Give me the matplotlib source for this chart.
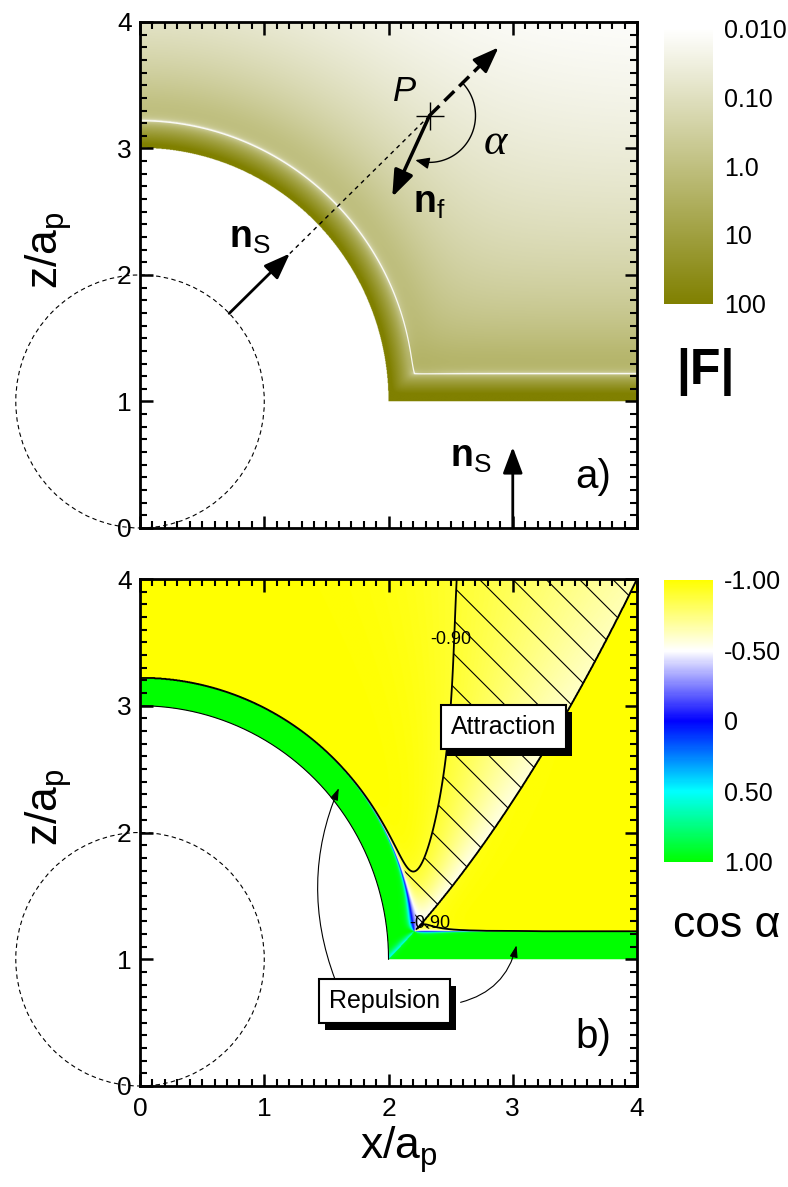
import numpy as np
import matplotlib
matplotlib.use("Agg")
import matplotlib.pyplot as plt
import matplotlib.transforms as mtransforms
from matplotlib.colors import LinearSegmentedColormap, LogNorm, Normalize
from matplotlib.ticker import MultipleLocator, NullLocator
from matplotlib.patches import Circle, Rectangle

plt.rcParams['font.family'] = ['Liberation Sans', 'DejaVu Sans']
plt.rcParams['mathtext.fontset'] = 'custom'
plt.rcParams['mathtext.rm'] = 'Liberation Sans'
plt.rcParams['mathtext.it'] = 'Liberation Sans:italic'
plt.rcParams['mathtext.bf'] = 'Liberation Sans:bold'
plt.rcParams['hatch.color'] = 'black'
plt.rcParams['hatch.linewidth'] = 0.8

# geometry, in units of a_p
a_p = 1.0
sphere_z = 1.0          # centre of the fixed particle
contact_sphere = 2.0    # centre-centre distance at contact
contact_plane = 1.0     # centre height at contact with the wall
h_zero = 0.22           # gap where the force changes sign

# force model parameters
hamaker = 6.0
soft = 0.1
lam_rep = 0.05
plane_factor = 0.7

# colour scales
F_ticks = [0.01, 0.1, 1, 10, 100]
F_labels = ['0.010', '0.10', '1.0', '10', '100']
F_colors = ['#ffffff', '#808000']
cos_ticks = [-1, -0.5, 0, 0.5, 1]
cos_labels = ['-1.00', '-0.50', '0', '0.50', '1.00']
cos_nodes = [-1.0, -0.5, 0.0, 0.5, 1.0]
cos_colors = ['#ffff00', '#ffffff', '#0000ff', '#00ffff', '#00ff00']
contour_level = -0.90
axis_ticks = [0, 1, 2, 3, 4]

# field on a grid
n = 1200
xs = np.linspace(0, 4, n)
zs = np.linspace(0, 4, n)
X, Z = np.meshgrid(xs, zs)
r1 = np.maximum(np.hypot(X, Z - sphere_z), 1e-9)
h1 = r1 - contact_sphere
h2 = Z - contact_plane
outside = (h1 < 0) | (h2 < 0)
g1 = np.clip(h1, 0, None)
g2 = np.clip(h2, 0, None)


def att_sphere(h):
    s = h + soft
    return 32 / 3 * hamaker / ((2 + s) ** 3 * s ** 2 * (s + 4) ** 2)


def att_plane(h):
    s = h + soft
    return plane_factor * 2 / 3 * hamaker / (s ** 2 * (s + 2) ** 2)


def force(h, att):
    b = att(h_zero) * np.exp(h_zero / lam_rep)
    return b * np.exp(-h / lam_rep) - att(h)


fs = force(g1, att_sphere)
fp = force(g2, att_plane)
c = (Z - sphere_z) / r1
Fmag = np.sqrt(np.maximum(fs ** 2 + fp ** 2 + 2 * fs * fp * c, 0))
Fn = np.where(h1 < h2, fs + fp * c, fp + fs * c)
cosa = np.clip(Fn / np.maximum(Fmag, 1e-12), -1, 1)

cmapF = LinearSegmentedColormap.from_list('F', F_colors).with_extremes(bad='white')
cmapC = LinearSegmentedColormap.from_list(
    'cosa', list(zip([(v + 1) / 2 for v in cos_nodes], cos_colors))).with_extremes(bad='white')

fig = plt.figure(figsize=(7.88, 11.87), dpi=100)


def style_axes(ax, xlabels):
    ax.set_xlim(0, 4)
    ax.set_ylim(0, 4)
    ax.set_xticks(axis_ticks)
    ax.set_yticks(axis_ticks)
    ax.xaxis.set_minor_locator(MultipleLocator(0.1))
    ax.yaxis.set_minor_locator(MultipleLocator(0.1))
    ax.tick_params(which='both', direction='in', top=True, right=True, width=1.8, labelsize=19)
    ax.tick_params(which='major', length=9)
    ax.tick_params(which='minor', length=5, width=1.5)
    ax.tick_params(axis='x', pad=8)
    ax.tick_params(axis='y', pad=6)
    if not xlabels:
        ax.set_xticklabels([])
    for s in ax.spines.values():
        s.set_linewidth(2)
    ax.set_ylabel(r'z/a$_\mathrm{p}$', fontsize=32, va='center')
    ax.yaxis.set_label_coords(-0.185, 0.55)
    ax.add_patch(Circle((0, sphere_z), a_p, fill=False, ls=(0, (4, 3)), lw=0.8,
                        clip_on=False, zorder=5))


def arrow(ax, tip, tail, lw=2, scale=20):
    ax.annotate('', xy=tip, xytext=tail,
                arrowprops=dict(arrowstyle='-|>,head_length=0.8,head_width=0.3', lw=lw,
                                color='k', shrinkA=0, shrinkB=0, mutation_scale=scale),
                annotation_clip=False, zorder=8)


def colorbar(im, rect, ticks, labels):
    cax = fig.add_axes(rect)
    cb = fig.colorbar(im, cax=cax)
    cb.outline.set_visible(False)
    cax.invert_yaxis()
    cb.set_ticks(ticks)
    cb.set_ticklabels(labels)
    cax.yaxis.set_minor_locator(NullLocator())
    cax.tick_params(length=0, labelsize=18, pad=8)
    return cb


# ---- panel a ----
ax1 = fig.add_axes([0.1777, 0.5552, 0.6307, 0.4263])
im1 = ax1.imshow(np.ma.masked_where(outside, np.clip(Fmag, 0.01, 100)), extent=[0, 4, 0, 4],
                 origin='lower', cmap=cmapF, norm=LogNorm(0.01, 100), aspect='auto',
                 interpolation='antialiased')
ax1.contour(X, Z, np.ma.masked_where(outside, Fn), levels=[0], colors='white',
            linewidths=0.9, linestyles='solid', alpha=0.9)
style_axes(ax1, False)

P = np.array([2.33, 3.26])
theta = np.arctan2(P[1] - sphere_z, P[0])
u = np.array([np.cos(theta), np.sin(theta)])
ctr = np.array([0.0, sphere_z])
arrow(ax1, ctr + 1.68 * u, ctr + a_p * u)
ax1.plot(*zip(ctr + 1.68 * u, P), ls=(0, (3, 3)), lw=1, color='k')
ax1.plot(*zip(P, ctr + 3.85 * u), ls=(0, (4, 2)), lw=2.5, color='k')
arrow(ax1, ctr + 4.02 * u, ctr + 3.8 * u)
nf = np.radians(245)
arrow(ax1, P + 0.71 * np.array([np.cos(nf), np.sin(nf)]), P, lw=2.5)
ax1.plot(*P, marker='+', ms=20, mew=1, color='k')
t = np.radians(np.linspace(45, -98, 60))
R = 0.37
ax1.plot(P[0] + R * np.cos(t), P[1] + R * np.sin(t), lw=1, color='k')
te = np.radians(-108)
ax1.annotate('', xy=(P[0] + R * np.cos(te), P[1] + R * np.sin(te)),
             xytext=(P[0] + R * np.cos(t[-1]), P[1] + R * np.sin(t[-1])),
             arrowprops=dict(arrowstyle='-|>,head_length=0.6,head_width=0.25', lw=1,
                             color='k', shrinkA=0, shrinkB=0, mutation_scale=14))
ax1.text(2.13, 3.45, 'P', fontsize=25, style='italic', ha='center', va='center')
ax1.text(2.86, 3.04, 'α', fontsize=32, family='Liberation Serif', style='italic',
         ha='center', va='center')
ax1.text(0.88, 2.29, r'$\mathbf{n}_\mathrm{S}$', fontsize=27, ha='center', va='center')
ax1.text(2.33, 2.57, r'$\mathbf{n}_\mathrm{f}$', fontsize=27, ha='center', va='center')
ax1.text(2.66, 0.56, r'$\mathbf{n}_\mathrm{S}$', fontsize=27, ha='center', va='center')
arrow(ax1, (3.0, 0.64), (3.0, 0.0))
ax1.text(3.65, 0.40, 'a)', fontsize=29, ha='center', va='center')

colorbar(im1, [0.8426, 0.7439, 0.0622, 0.2325], F_ticks, F_labels)
fig.text(0.895, 0.6866, '|F|', fontsize=36, fontweight='bold', ha='center', va='center')

# ---- panel b ----
ax2 = fig.add_axes([0.1777, 0.0851, 0.6307, 0.4271])
cos_m = np.ma.masked_where(outside, cosa)
im2 = ax2.imshow(cos_m, extent=[0, 4, 0, 4], origin='lower', cmap=cmapC,
                 norm=Normalize(-1, 1), aspect='auto', interpolation='antialiased')
hatch_field = np.ma.masked_where(outside | (np.minimum(h1, h2) < h_zero + 0.02), cosa)
ax2.contourf(X, Z, hatch_field, levels=[contour_level, 1.01], colors='none', hatches=['\\'])
ax2.contour(X, Z, cos_m, levels=[contour_level], colors='k', linewidths=1.3,
            linestyles='solid')
ang = np.linspace(0, np.pi / 2, 200)
ax2.plot(contact_sphere * np.cos(ang), sphere_z + contact_sphere * np.sin(ang), color='k', lw=0.8)
style_axes(ax2, True)
ax2.set_xlabel(r'x/a$_\mathrm{p}$', fontsize=32, va='center')
ax2.xaxis.set_label_coords(0.52, -0.125)
ax2.text(2.50, 3.52, '-0.90', fontsize=13, ha='center', va='center')
ax2.text(2.33, 1.28, '-0.90', fontsize=13, ha='center', va='center')


def shadow_box(ax, x, y, s):
    txt = ax.text(x, y, s, ha='center', va='center', fontsize=18,
                  bbox=dict(boxstyle='square,pad=0.4', fc='white', ec='k', lw=1.5), zorder=10)
    fig.canvas.draw()
    bb = txt.get_bbox_patch().get_window_extent()
    ax.add_patch(Rectangle((bb.x0 + 6, bb.y0 - 7), bb.width, bb.height,
                           transform=mtransforms.IdentityTransform(), fc='k', ec='none',
                           zorder=9, clip_on=False))
    return txt


for tip, tail, rad in [((1.60, 2.35), (1.57, 0.84), -0.2), ((3.03, 1.11), (2.58, 0.66), 0.3)]:
    ax2.annotate('', xy=tip, xytext=tail,
                 arrowprops=dict(arrowstyle='-|>,head_length=0.6,head_width=0.2', lw=0.8,
                                 color='k', shrinkA=0, shrinkB=0, mutation_scale=12,
                                 connectionstyle=f'arc3,rad={rad}'), zorder=8)
ax2.text(3.65, 0.39, 'b)', fontsize=29, ha='center', va='center')

colorbar(im2, [0.8426, 0.2738, 0.0622, 0.2376], cos_ticks, cos_labels)
fig.text(0.9226, 0.2207, 'cos α', fontsize=32, ha='center', va='center')

shadow_box(ax2, 2.925, 2.836, 'Attraction')
shadow_box(ax2, 1.968, 0.667, 'Repulsion')

fig.savefig('out.png', dpi=100)
